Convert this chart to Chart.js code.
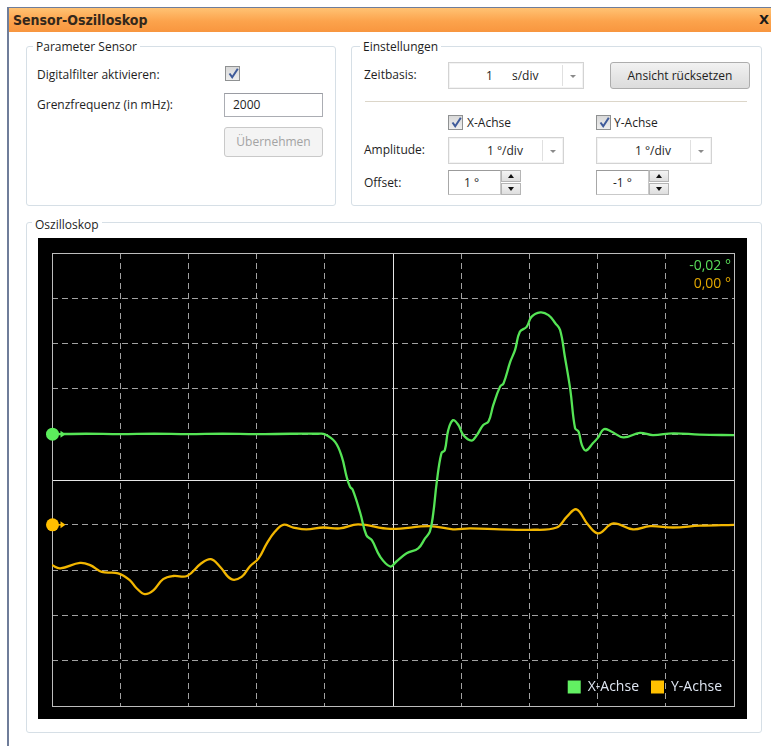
<!DOCTYPE html>
<html>
<head>
<meta charset="utf-8">
<title>Sensor-Oszilloskop</title>
<script src="https://cdn.jsdelivr.net/npm/chart.js@4/dist/chart.umd.min.js"></script>
<style>
  html, body { margin: 0; padding: 0; background: #ffffff; }
  body {
    width: 771px; height: 746px; position: relative; overflow: hidden;
    font-family: 'Open Sans', 'Noto Sans', sans-serif; font-size: 12px; color: #1e1e1e;
  }
  .abs { position: absolute; box-sizing: border-box; }
  #frame { left: 7px; top: 7px; width: 800px; height: 800px; border-left: 2px solid #6f7d9a; border-top: 1px solid #6f7d9a; background: #ffffff; }
  #titlebar { left: 9px; top: 8px; width: 780px; height: 24px; background: linear-gradient(#ffc273, #fca34c 55%, #f8963f); }
  #title { left: 13px; top: 11px; line-height: 18px; font-family: 'Liberation Sans Narrow', 'DejaVu Sans Condensed', sans-serif; font-weight: bold; font-size: 14px; color: #33281c; white-space: nowrap; }
  #close { left: 759px; top: 11px; line-height: 18px; font-family: 'DejaVu Sans', sans-serif; font-weight: bold; font-size: 13px; color: #1a1a1a; }
  .group { border: 1px solid #d6dfe6; border-radius: 3px; }
  .glabel { background: #ffffff; padding: 0 3px; line-height: 16px; white-space: nowrap; color: #1e1e1e; }
  .lbl { line-height: 16px; white-space: nowrap; }
  .check { width: 15px; height: 15px; border: 1px solid #8f9192; background: linear-gradient(#d9d9d9, #eeeeee); }
  .check svg { position: absolute; left: 1px; top: 0px; }
  .textbox { border: 1px solid #abadb3; border-top-color: #9a9ca3; background: #fff; line-height: 22px; padding-left: 8px; }
  .btn { border: 1px solid #adadad; border-radius: 3px; background: linear-gradient(#f2f2f2, #e6e6e6 50%, #dcdcdc); text-align: center; }
  .btn.off { border-color: #c9c9c9; background: #f4f4f4; color: #a3a3a3; }
  .combo { border: 1px solid #d3d3d3; box-shadow: inset 0 0 0 1px #f3f3f3; background: #ffffff; }
  .combo .arrow { position: absolute; top: 2px; bottom: 2px; right: 1px; width: 19px; border-left: 1px solid #e0e0e0; }
  .combo .arrow::after { content: ''; position: absolute; left: 7px; top: 10px; border-left: 3px solid transparent; border-right: 3px solid transparent; border-top: 3px solid #8a8a8a; }
  .combo .val { position: absolute; top: 0; line-height: 25px; white-space: nowrap; }
  .spin { border: 1px solid #c9c9c9; border-top-color: #9b9b9b; border-left-color: #a8a8a8; background: #fff; }
  .spin .val { position: absolute; top: 0; line-height: 23px; white-space: nowrap; }
  .spinbtn { width: 20px; height: 12px; border: 1px solid #b5b5b5; background: linear-gradient(#f4f4f4, #dedede); }
  .spinbtn.up::after, .spinbtn.down::after { content: ''; position: absolute; left: 6px; border-left: 3.5px solid transparent; border-right: 3.5px solid transparent; }
  .spinbtn.up::after { top: 3px; border-bottom: 4px solid #111; }
  .spinbtn.down::after { top: 3px; border-top: 4px solid #111; }
  #scopeBox { left: 38px; top: 238px; width: 709px; height: 481px; background: #000000; }
</style>
</head>
<body>
<div id="frame" class="abs"></div>
<div id="titlebar" class="abs"></div>
<div id="title" class="abs">Sensor-Oszilloskop</div>
<div id="close" class="abs">X</div>

<!-- Parameter Sensor -->
<div class="abs group" style="left:26px;top:46px;width:310px;height:160px;"></div>
<div class="abs glabel" style="left:33px;top:39px;">Parameter Sensor</div>
<div class="abs lbl" style="left:37px;top:67px;">Digitalfilter aktivieren:</div>
<div class="abs check" style="left:225px;top:66px;"><svg width="13" height="13" viewBox="0 0 13 13"><path d="M2.5 6.5 L5.2 10.2 L10.8 1.8" fill="none" stroke="#3f5b9a" stroke-width="2"/></svg></div>
<div class="abs lbl" style="left:37px;top:97px;">Grenzfrequenz (in mHz):</div>
<div class="abs textbox" style="left:224px;top:93px;width:99px;height:24px;">2000</div>
<div class="abs btn off" style="left:224px;top:127px;width:99px;height:30px;line-height:28px;">Übernehmen</div>

<!-- Einstellungen -->
<div class="abs group" style="left:351px;top:46px;width:411px;height:160px;"></div>
<div class="abs glabel" style="left:360px;top:39px;">Einstellungen</div>
<div class="abs lbl" style="left:364px;top:67px;">Zeitbasis:</div>
<div class="abs combo" style="left:448px;top:62px;width:136px;height:27px;">
  <span class="val" style="left:37px;">1</span><span class="val" style="left:63px;">s/div</span><div class="arrow"></div>
</div>
<div class="abs btn" style="left:610px;top:62px;width:140px;height:27px;line-height:25px;">Ansicht rücksetzen</div>
<div class="abs" style="left:365px;top:101px;width:382px;height:1px;background:#dcd6c9;"></div>
<div class="abs check" style="left:448px;top:115px;"><svg width="13" height="13" viewBox="0 0 13 13"><path d="M2.5 6.5 L5.2 10.2 L10.8 1.8" fill="none" stroke="#3f5b9a" stroke-width="2"/></svg></div>
<div class="abs lbl" style="left:467px;top:115px;">X-Achse</div>
<div class="abs check" style="left:596px;top:115px;"><svg width="13" height="13" viewBox="0 0 13 13"><path d="M2.5 6.5 L5.2 10.2 L10.8 1.8" fill="none" stroke="#3f5b9a" stroke-width="2"/></svg></div>
<div class="abs lbl" style="left:614px;top:115px;">Y-Achse</div>
<div class="abs lbl" style="left:364px;top:142px;">Amplitude:</div>
<div class="abs combo" style="left:448px;top:137px;width:116px;height:27px;">
  <span class="val" style="left:38px;">1 °/div</span><div class="arrow"></div>
</div>
<div class="abs combo" style="left:596px;top:137px;width:116px;height:27px;">
  <span class="val" style="left:38px;">1 °/div</span><div class="arrow"></div>
</div>
<div class="abs lbl" style="left:364px;top:175px;">Offset:</div>
<div class="abs spin" style="left:448px;top:170px;width:53px;height:25px;"><span class="val" style="left:15px;">1 °</span></div>
<div class="abs spinbtn up" style="left:501px;top:170px;"></div>
<div class="abs spinbtn down" style="left:501px;top:183px;"></div>
<div class="abs spin" style="left:596px;top:170px;width:53px;height:25px;"><span class="val" style="left:16px;">-1 °</span></div>
<div class="abs spinbtn up" style="left:649px;top:170px;"></div>
<div class="abs spinbtn down" style="left:649px;top:183px;"></div>

<!-- Oszilloskop -->
<div class="abs group" style="left:26px;top:222px;width:736px;height:511px;"></div>
<div class="abs glabel" style="left:32px;top:217px;">Oszilloskop</div>
<div id="scopeBox" class="abs"><canvas id="scope" width="709" height="481"></canvas></div>

<script>
// Sample times (s) and measured angles (°) of both sensor axes
const timeX = [0, 0.5, 1.0, 1.5, 2.0, 2.5, 3.0, 3.5, 3.9, 4.0,
  4.15, 4.25, 4.32, 4.37, 4.41, 4.52, 4.61, 4.69, 4.81, 4.96,
  5.05, 5.20, 5.37, 5.47, 5.54, 5.59, 5.64, 5.71, 5.76, 5.81,
  5.88, 5.96, 6.03, 6.15, 6.23, 6.32, 6.40, 6.47, 6.57, 6.62,
  6.72, 6.79, 6.86, 6.96, 7.03, 7.16, 7.28, 7.38, 7.45, 7.52,
  7.60, 7.67, 7.72, 7.77, 7.83, 7.93, 8.01, 8.09, 8.20, 8.38,
  8.62, 8.81, 9.11, 9.50, 10.0];
const valuesX = [0.00, 0.01, 0.00, 0.01, 0.00, 0.01, 0.00, 0.01, 0.01, 0.00,
  -0.17, -0.50, -0.94, -1.16, -1.23, -1.74, -2.23, -2.34, -2.70, -2.92,
  -2.81, -2.63, -2.52, -2.30, -2.15, -1.75, -1.08, -0.42, -0.35, 0.09,
  0.31, 0.20, -0.02, -0.14, -0.02, 0.20, 0.28, 0.64, 1.05, 1.12,
  1.60, 1.86, 2.26, 2.37, 2.59, 2.69, 2.63, 2.45, 2.30, 1.71,
  0.98, 0.13, 0.06, -0.24, -0.36, -0.20, -0.07, 0.11, 0.06, -0.07,
  0.03, -0.02, 0.02, -0.01, -0.02];

const timeY = [0, 0.12, 0.41, 0.56, 0.73, 0.97, 1.14, 1.24, 1.36, 1.49,
  1.63, 1.78, 1.98, 2.19, 2.33, 2.46, 2.63, 2.78, 2.90, 3.03,
  3.15, 3.27, 3.39, 3.54, 3.73, 3.98, 4.22, 4.49, 4.96, 5.54,
  5.88, 6.13, 6.57, 7.01, 7.40, 7.55, 7.69, 7.86, 8.01, 8.23,
  8.52, 8.77, 9.11, 9.50, 10.0];
const valuesY = [-0.89, -0.96, -0.84, -0.89, -1.04, -1.07, -1.22, -1.40, -1.53, -1.44,
  -1.20, -1.13, -1.13, -0.85, -0.76, -0.92, -1.20, -1.15, -0.92, -0.74,
  -0.41, -0.15, 0.00, -0.06, -0.10, -0.06, -0.08, 0.01, -0.09, -0.03,
  -0.10, -0.08, -0.10, -0.11, -0.06, 0.18, 0.34, 0.00, -0.19, 0.03,
  -0.10, -0.03, -0.06, -0.02, 0.00];

// Channel names, vertical offsets (°) and screen window
const channelNames = ['X-Achse', 'Y-Achse'];
const channelOffsets = [1, -1];
const timeWindow = [0, 10];      // 1 s/div, 10 divisions
const amplitudeWindow = [-5, 5]; // 1 °/div, 10 divisions

const traceColors = ['#55e455', '#f2b600'];
const markerColors = ['#5cec5c', '#ffbf00'];
const legendColors = ['#62f062', '#ffc000'];
const readoutColors = ['#5ade5a', '#e3a800'];

const series = [
  { t: timeX, v: valuesX },
  { t: timeY, v: valuesY }
];

const fmtDeg = v => v.toFixed(2).replace('.', ',') + ' °';

// Solid frame and centre cross, offset markers, live readouts and legend
const scopeOverlay = {
  id: 'scopeOverlay',
  beforeDatasetsDraw(chart) {
    const { ctx, chartArea: a, scales: { x, y } } = chart;
    ctx.save();
    ctx.lineWidth = 1;
    ctx.strokeStyle = '#e6e6e6';
    const xc = Math.round(x.getPixelForValue((timeWindow[0] + timeWindow[1]) / 2)) + 0.5;
    const yc = Math.round(y.getPixelForValue(0)) + 0.5;
    ctx.beginPath();
    ctx.moveTo(xc, a.top); ctx.lineTo(xc, a.bottom);
    ctx.moveTo(a.left, yc); ctx.lineTo(a.right, yc);
    ctx.stroke();
    ctx.strokeStyle = '#bdbdbd';
    ctx.strokeRect(Math.round(a.left) + 0.5, Math.round(a.top) + 0.5,
      Math.round(a.right - a.left), Math.round(a.bottom - a.top));
    ctx.restore();
  },
  afterDatasetsDraw(chart) {
    const { ctx, chartArea: a, scales: { x, y } } = chart;
    ctx.save();
    const x0 = Math.round(x.getPixelForValue(timeWindow[0])) + 0.5;
    channelOffsets.forEach((off, i) => {
      const py = y.getPixelForValue(off);
      ctx.fillStyle = markerColors[i];
      ctx.strokeStyle = markerColors[i];
      ctx.lineWidth = 1.5;
      ctx.beginPath();
      ctx.moveTo(x0, py); ctx.lineTo(x0 + 9, py);
      ctx.stroke();
      ctx.beginPath();
      ctx.moveTo(x0 + 8, py - 3.5); ctx.lineTo(x0 + 13, py); ctx.lineTo(x0 + 8, py + 3.5);
      ctx.closePath(); ctx.fill();
      ctx.beginPath();
      ctx.arc(x0, py, 6.5, 0, Math.PI * 2);
      ctx.fill();
    });

    // current values, top right
    ctx.font = "14px 'Open Sans', 'Noto Sans', sans-serif";
    ctx.textAlign = 'right';
    ctx.textBaseline = 'middle';
    series.forEach((s, i) => {
      ctx.fillStyle = readoutColors[i];
      ctx.fillText(fmtDeg(s.v[s.v.length - 1]), a.right - 3, a.top + 13 + i * 18);
    });

    // legend, bottom right
    ctx.font = "14px 'Open Sans', 'Noto Sans', sans-serif";
    ctx.textAlign = 'left';
    let cursor = a.right - 12;
    const ly = a.bottom - 19;
    for (let i = channelNames.length - 1; i >= 0; i--) {
      const w = ctx.measureText(channelNames[i]).width;
      const tx = cursor - w;
      ctx.fillStyle = '#dfe6f2';
      ctx.fillText(channelNames[i], tx, ly);
      const sx = tx - 7 - 13;
      ctx.fillStyle = legendColors[i];
      ctx.fillRect(sx, ly - 6.5, 13, 13);
      cursor = sx - 12;
    }
    ctx.restore();
  }
};

const gridColor = (skip) => (c) =>
  (c.tick && skip.includes(c.tick.value)) ? 'rgba(0,0,0,0)' : '#a2a2a2';

new Chart(document.getElementById('scope'), {
  type: 'line',
  data: {
    datasets: series.map((s, i) => ({
      label: channelNames[i],
      data: s.t.map((t, k) => ({ x: t, y: s.v[k] + channelOffsets[i] })),
      borderColor: traceColors[i],
      borderWidth: 2.3,
      pointRadius: 0,
      tension: 0.4,
      fill: false
    }))
  },
  options: {
    responsive: false,
    devicePixelRatio: 1,
    animation: false,
    events: [],
    layout: { padding: { left: 14, top: 15, right: 13, bottom: 13 } },
    plugins: { legend: { display: false }, tooltip: { enabled: false } },
    scales: {
      x: {
        type: 'linear', min: timeWindow[0], max: timeWindow[1],
        ticks: { display: false, stepSize: 1 },
        grid: { color: gridColor([0, 5, 10]), lineWidth: 1, drawTicks: false },
        border: { display: false, dash: [6, 4] }
      },
      y: {
        type: 'linear', min: amplitudeWindow[0], max: amplitudeWindow[1],
        ticks: { display: false, stepSize: 1 },
        grid: { color: gridColor([-5, 0, 5]), lineWidth: 1, drawTicks: false },
        border: { display: false, dash: [6, 4] }
      }
    }
  },
  plugins: [scopeOverlay]
});
</script>
</body>
</html>
